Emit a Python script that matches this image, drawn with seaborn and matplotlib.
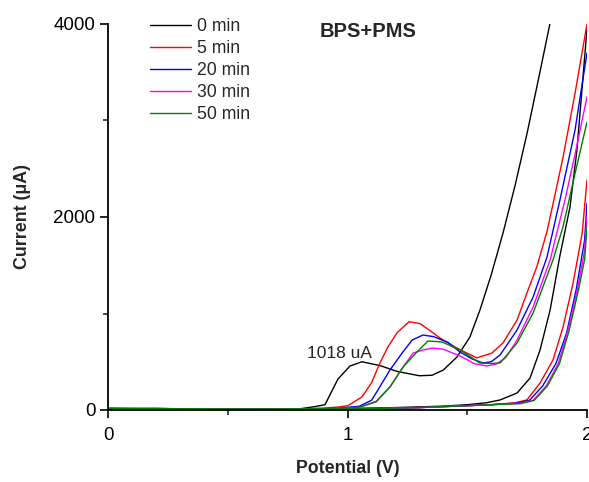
import numpy as np
import pandas as pd
import matplotlib
matplotlib.use("Agg")
import matplotlib.pyplot as plt
import seaborn as sns
from matplotlib.ticker import MultipleLocator

series_labels = ["0 min", "5 min", "20 min", "30 min", "50 min"]
series_colors = ["#000000", "#ff0000", "#0000ff", "#ff00ff", "#008000"]

# ---- 0 min ----
x0_fwd = [0, 0.2, 0.4, 0.6, 0.75, 0.80, 0.864, 0.906, 0.96, 1.01, 1.06, 1.136, 1.207, 1.30, 1.353,
          1.40, 1.457, 1.511, 1.553, 1.6, 1.65, 1.7, 1.75, 1.8, 1.845, 1.9]
y0_fwd = [15, 15, 12, 8, 8, 12, 35, 55, 320, 455, 500, 460, 400, 355, 360,
          414, 549, 756, 1036, 1400, 1840, 2330, 2870, 3460, 4000, 4700]
x0_rev = [2.0, 1.958, 1.929, 1.887, 1.846, 1.804, 1.762, 1.708, 1.637, 1.58, 1.5, 1.4, 1.2, 1.0,
          0.8, 0.6, 0.4, 0.2, 0.0]
y0_rev = [3950, 2694, 2103, 1600, 1036, 622, 330, 176, 104, 75, 55, 40, 25, 15,
          10, 8, 10, 10, 15]

# ---- 5 min ----
x5_fwd = [0, 0.2, 0.4, 0.6, 0.8, 0.9, 0.96, 1.002, 1.06, 1.10, 1.136, 1.169, 1.207, 1.257, 1.303,
          1.357, 1.386, 1.43, 1.47, 1.54, 1.603, 1.649, 1.708, 1.749, 1.79, 1.833, 1.875, 1.9, 1.95, 2.0]
y5_fwd = [15, 15, 10, 10, 12, 20, 30, 45, 135, 280, 490, 655, 800, 915, 895,
          800, 746, 680, 625, 540, 590, 694, 932, 1212, 1480, 1850, 2330, 2620, 3280, 4000]
x5_rev = [2.0, 1.98, 1.942, 1.9, 1.858, 1.804, 1.749, 1.7, 1.6, 1.5, 1.4, 1.3, 1.2, 1.1, 1.0,
          0.8, 0.6, 0.4, 0.2, 0.0]
y5_rev = [2383, 1834, 1316, 860, 518, 280, 104, 75, 55, 45, 35, 25, 20, 15, 12,
          10, 8, 10, 12, 15]

# ---- 20 min ----
x20_fwd = [0, 0.2, 0.4, 0.6, 0.8, 0.95, 1.05, 1.10, 1.127, 1.177, 1.228, 1.27, 1.315, 1.36, 1.42,
           1.47, 1.52, 1.566, 1.60, 1.637, 1.708, 1.775, 1.833, 1.887, 1.95, 2.0]
y20_fwd = [15, 15, 10, 10, 10, 15, 40, 100, 207, 414, 590, 725, 777, 760, 700,
           600, 530, 487, 500, 570, 829, 1171, 1585, 2176, 2900, 3700]
x20_rev = [2.0, 1.99, 1.955, 1.915, 1.87, 1.815, 1.76, 1.7, 1.6, 1.5, 1.4, 1.3, 1.2, 1.1, 1.0,
           0.8, 0.6, 0.4, 0.2, 0.0]
y20_rev = [2144, 1761, 1250, 800, 480, 250, 100, 70, 55, 45, 35, 25, 20, 15, 12,
           10, 8, 10, 12, 15]

# ---- 30 min ----
x30_fwd = [0, 0.2, 0.4, 0.6, 0.8, 0.95, 1.05, 1.12, 1.177, 1.232, 1.274, 1.315, 1.357, 1.40, 1.47,
           1.53, 1.582, 1.62, 1.66, 1.708, 1.775, 1.846, 1.908, 1.95, 2.0]
y30_fwd = [15, 15, 10, 10, 10, 12, 30, 90, 238, 445, 590, 622, 642, 630, 560,
           480, 456, 475, 540, 725, 1067, 1554, 2176, 2650, 3243]
x30_rev = [2.0, 1.99, 1.96, 1.92, 1.88, 1.83, 1.775, 1.72, 1.6, 1.5, 1.4, 1.3, 1.2, 1.1, 1.0,
           0.8, 0.6, 0.4, 0.2, 0.0]
y30_rev = [2000, 1650, 1250, 820, 480, 250, 100, 70, 55, 45, 35, 25, 20, 15, 12,
           10, 8, 10, 12, 15]

# ---- 50 min ----
x50_fwd = [0, 0.2, 0.4, 0.6, 0.8, 0.95, 1.05, 1.12, 1.177, 1.232, 1.29, 1.336, 1.395, 1.47, 1.553,
           1.6, 1.637, 1.708, 1.775, 1.858, 1.90, 1.95, 2.0]
y50_fwd = [15, 15, 10, 10, 10, 12, 28, 85, 238, 445, 601, 715, 705, 622, 487,
           482, 487, 694, 1005, 1554, 1900, 2450, 2984]
x50_rev = [2.0, 1.99, 1.965, 1.925, 1.885, 1.835, 1.78, 1.72, 1.6, 1.5, 1.4, 1.3, 1.2, 1.1, 1.0,
           0.8, 0.6, 0.4, 0.2, 0.0]
y50_rev = [1896, 1560, 1250, 820, 480, 250, 100, 65, 55, 45, 35, 25, 20, 15, 12,
           10, 8, 10, 12, 15]

branches = [
    ("0 min", x0_fwd, y0_fwd, x0_rev, y0_rev),
    ("5 min", x5_fwd, y5_fwd, x5_rev, y5_rev),
    ("20 min", x20_fwd, y20_fwd, x20_rev, y20_rev),
    ("30 min", x30_fwd, y30_fwd, x30_rev, y30_rev),
    ("50 min", x50_fwd, y50_fwd, x50_rev, y50_rev),
]
rows = []
for lab, xf, yf, xr, yr in branches:
    for xv, yv in zip(xf, yf):
        rows.append((lab, "fwd", xv, yv))
    for xv, yv in zip(xr, yr):
        rows.append((lab, "rev", xv, yv))
df = pd.DataFrame(rows, columns=["series", "branch", "V", "I"])

sns.set_style("ticks")
plt.rcParams["font.family"] = ["Liberation Sans", "DejaVu Sans"]

fig = plt.figure(figsize=(5.89, 4.82), dpi=100)
ax = fig.add_axes([108 / 589, 1 - 410 / 482, 479 / 589, 386 / 482])

sns.lineplot(data=df, x="V", y="I", hue="series", units="branch", estimator=None,
             sort=False, hue_order=series_labels, palette=series_colors,
             linewidth=1.0, ax=ax)

ax.set_xlim(0, 2)
ax.set_ylim(0, 4000)
ax.xaxis.set_major_locator(MultipleLocator(1))
ax.xaxis.set_minor_locator(MultipleLocator(0.5))
ax.yaxis.set_major_locator(MultipleLocator(2000))
ax.yaxis.set_minor_locator(MultipleLocator(1000))
ax.tick_params(which="major", direction="out", length=6, width=1.2, labelsize=13.5, colors="black")
ax.tick_params(which="minor", direction="out", length=3.5, width=1.2)
ax.tick_params(axis="x", pad=6)
ax.tick_params(axis="y", pad=3)
for s in ["left", "bottom"]:
    ax.spines[s].set_linewidth(1.3)
    ax.spines[s].set_color("black")
sns.despine(ax=ax)

ax.set_xlabel("Potential (V)", fontsize=12.8, fontweight="bold", labelpad=12)
ax.set_ylabel("Current (μA)", fontsize=12.8, fontweight="bold", labelpad=16)

ax.text(0.885, 3927, "BPS+PMS", fontsize=14.5, fontweight="bold", ha="left", va="center")
ax.text(0.831, 590, "1018 uA", fontsize=12.5, ha="left", va="center")

handles, labels = ax.get_legend_handles_labels()
ax.legend(handles, labels, loc="upper left", bbox_to_anchor=(150 / 589, 1 - 18 / 482),
          bbox_transform=fig.transFigure, frameon=False, fontsize=12.7, handlelength=2.3,
          handletextpad=0.35, labelspacing=0.28, borderpad=0, borderaxespad=0)

fig.savefig("out.png", dpi=100)
